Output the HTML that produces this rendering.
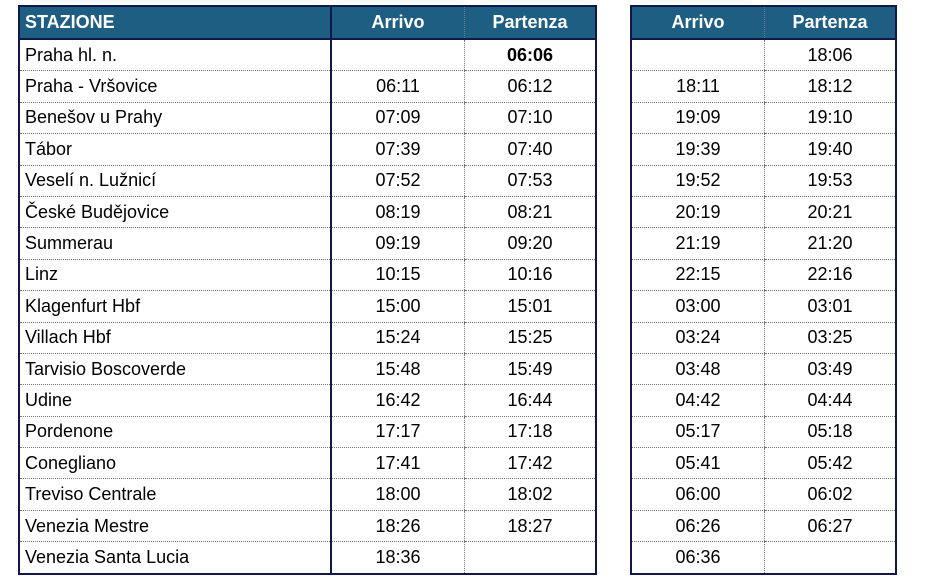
<!DOCTYPE html>
<html><head><meta charset="utf-8"><style>
body{margin:0;width:933px;height:588px;background:#fff;font-family:"Liberation Sans",Arial,sans-serif;position:relative;overflow:hidden}
table{position:absolute;top:5px;border-collapse:collapse;border:2px solid #101848}
td,th{height:30.4px;padding:0;font-size:18px;color:#000;font-weight:normal;text-align:center;border-bottom:1px dotted #777;border-left:1px dotted #777}
th{background:#1e5e82;color:#fff;font-weight:bold;height:31px;border-bottom:2px solid #101848}
td.s{text-align:left;padding-left:5px;border-right:2px solid #101848}
th.s{text-align:left;padding-left:5px;border-right:2px solid #101848}
</style></head><body>
<table style="left:18px;width:579px">
<tr><th class="s" style="width:305px">STAZIONE</th><th style="width:132px">Arrivo</th><th>Partenza</th></tr>
<tr><td class="s">Praha hl. n.</td><td></td><td><b>06:06</b></td></tr>
<tr><td class="s">Praha - Vršovice</td><td>06:11</td><td>06:12</td></tr>
<tr><td class="s">Benešov u Prahy</td><td>07:09</td><td>07:10</td></tr>
<tr><td class="s">Tábor</td><td>07:39</td><td>07:40</td></tr>
<tr><td class="s">Veselí n. Lužnicí</td><td>07:52</td><td>07:53</td></tr>
<tr><td class="s">České Budějovice</td><td>08:19</td><td>08:21</td></tr>
<tr><td class="s">Summerau</td><td>09:19</td><td>09:20</td></tr>
<tr><td class="s">Linz</td><td>10:15</td><td>10:16</td></tr>
<tr><td class="s">Klagenfurt Hbf</td><td>15:00</td><td>15:01</td></tr>
<tr><td class="s">Villach Hbf</td><td>15:24</td><td>15:25</td></tr>
<tr><td class="s">Tarvisio Boscoverde</td><td>15:48</td><td>15:49</td></tr>
<tr><td class="s">Udine</td><td>16:42</td><td>16:44</td></tr>
<tr><td class="s">Pordenone</td><td>17:17</td><td>17:18</td></tr>
<tr><td class="s">Conegliano</td><td>17:41</td><td>17:42</td></tr>
<tr><td class="s">Treviso Centrale</td><td>18:00</td><td>18:02</td></tr>
<tr><td class="s">Venezia Mestre</td><td>18:26</td><td>18:27</td></tr>
<tr><td class="s">Venezia Santa Lucia</td><td>18:36</td><td></td></tr>
</table>
<table style="left:630px;width:267px">
<tr><th style="width:132px;border-left:none">Arrivo</th><th>Partenza</th></tr>
<tr><td style="border-left:none"></td><td>18:06</td></tr>
<tr><td style="border-left:none">18:11</td><td>18:12</td></tr>
<tr><td style="border-left:none">19:09</td><td>19:10</td></tr>
<tr><td style="border-left:none">19:39</td><td>19:40</td></tr>
<tr><td style="border-left:none">19:52</td><td>19:53</td></tr>
<tr><td style="border-left:none">20:19</td><td>20:21</td></tr>
<tr><td style="border-left:none">21:19</td><td>21:20</td></tr>
<tr><td style="border-left:none">22:15</td><td>22:16</td></tr>
<tr><td style="border-left:none">03:00</td><td>03:01</td></tr>
<tr><td style="border-left:none">03:24</td><td>03:25</td></tr>
<tr><td style="border-left:none">03:48</td><td>03:49</td></tr>
<tr><td style="border-left:none">04:42</td><td>04:44</td></tr>
<tr><td style="border-left:none">05:17</td><td>05:18</td></tr>
<tr><td style="border-left:none">05:41</td><td>05:42</td></tr>
<tr><td style="border-left:none">06:00</td><td>06:02</td></tr>
<tr><td style="border-left:none">06:26</td><td>06:27</td></tr>
<tr><td style="border-left:none">06:36</td><td></td></tr>
</table>
</body></html>
